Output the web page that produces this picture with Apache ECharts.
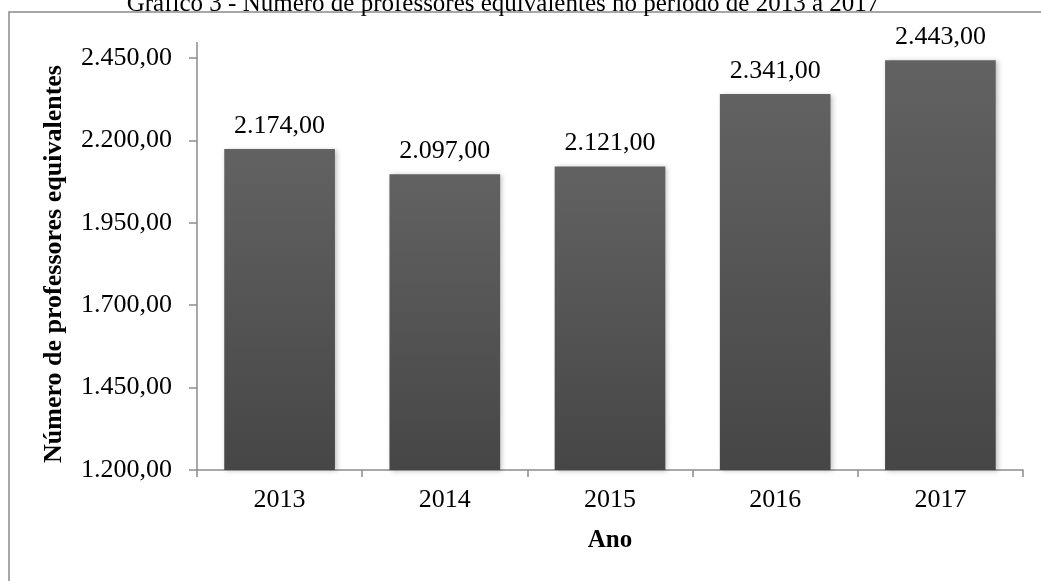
<!DOCTYPE html>
<html>
<head>
<meta charset="utf-8">
<script src="https://cdn.jsdelivr.net/npm/echarts@6/dist/echarts.min.js"></script>
<style>
  html, body { margin: 0; padding: 0; background: #fff; }
  #chart { width: 1041px; height: 581px; }
</style>
</head>
<body>
<div id="chart"></div>
<script>
// Anos e número de professores equivalentes
const anos = ['2013', '2014', '2015', '2016', '2017'];
const professores = [2174, 2097, 2121, 2341, 2443];
const eixoMin = 1200;
const eixoMax = 2450;
const eixoPasso = 250;

// Formato brasileiro: 2.174,00
function formatoBR(v) {
  const partes = Number(v).toFixed(2).split('.');
  partes[0] = partes[0].replace(/\B(?=(\d{3})+(?!\d))/g, '.');
  return partes[0] + ',' + partes[1];
}

const serif = '"Liberation Serif", "Times New Roman", serif';
const cinzaEixo = '#8c8c8c';
const tamanho = 26;

const chart = echarts.init(document.getElementById('chart'), null, { renderer: 'canvas' });

const gridTop = 58, gridLeft = 197, gridRight = 18, gridBottom = 111;

chart.setOption({
  backgroundColor: '#ffffff',
  animation: false,
  title: {
    text: 'Gráfico 3 - Número de professores equivalentes no período de 2013 a 2017',
    left: 498,
    top: -13,
    textAlign: 'center',
    textStyle: { fontFamily: serif, fontSize: 25, fontWeight: 'normal', color: '#000' }
  },
  grid: { left: gridLeft, right: gridRight, top: gridTop, bottom: gridBottom, containLabel: false },
  xAxis: {
    type: 'category',
    data: anos,
    name: 'Ano',
    nameLocation: 'middle',
    nameGap: 58,
    nameTextStyle: { fontFamily: serif, fontSize: 25, fontWeight: 'bold', color: '#000' },
    axisLine: { lineStyle: { color: cinzaEixo, width: 1.5 } },
    axisTick: { show: true, length: 7, lineStyle: { color: cinzaEixo, width: 1.5 } },
    axisLabel: { fontFamily: serif, fontSize: tamanho, color: '#000', margin: 17 },
    splitLine: { show: false }
  },
  yAxis: {
    type: 'value',
    min: eixoMin,
    max: eixoMax,
    interval: eixoPasso,
    name: 'Número de professores equivalentes',
    nameLocation: 'middle',
    nameGap: 130,
    nameTextStyle: { fontFamily: serif, fontSize: tamanho, fontWeight: 'bold', color: '#000' },
    axisLine: { show: true, lineStyle: { color: cinzaEixo, width: 1.5 } },
    axisTick: { show: true, length: 8, lineStyle: { color: cinzaEixo, width: 1.5 } },
    axisLabel: { fontFamily: serif, fontSize: tamanho, color: '#000', margin: 25, formatter: formatoBR },
    splitLine: { show: false }
  },
  series: [{
    type: 'bar',
    data: professores,
    barWidth: '67%',
    itemStyle: {
      color: new echarts.graphic.LinearGradient(0, 0, 0, 1, [
        { offset: 0, color: '#626262' },
        { offset: 1, color: '#464646' }
      ]),
      shadowColor: 'rgba(0,0,0,0.25)',
      shadowBlur: 5,
      shadowOffsetX: 2,
      shadowOffsetY: 1
    },
    label: {
      show: true,
      position: 'top',
      distance: 10,
      fontFamily: serif,
      fontSize: tamanho,
      color: '#000',
      formatter: p => formatoBR(p.value)
    }
  }],
  graphic: [
    // moldura da área do gráfico
    {
      type: 'polyline',
      shape: { points: [[9, 600], [9, 12], [1060, 12]] },
      style: { stroke: '#8a8a8a', lineWidth: 1.5, fill: null },
      silent: true
    },
    // prolongamento do eixo vertical acima do último rótulo
    {
      type: 'line',
      shape: { x1: gridLeft, y1: gridTop - 16, x2: gridLeft, y2: gridTop },
      style: { stroke: cinzaEixo, lineWidth: 1.5 },
      silent: true
    }
  ]
});
</script>
</body>
</html>
